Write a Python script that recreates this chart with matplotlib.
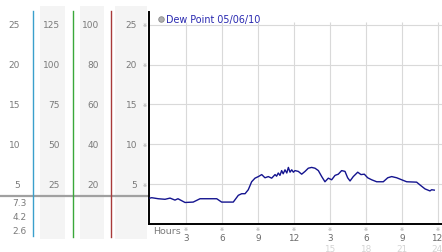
import matplotlib
matplotlib.use("Agg")
import matplotlib.pyplot as plt
import matplotlib.transforms as mtransforms
from matplotlib.patches import Rectangle

# ---------------- data ----------------
series_name = "Dew Point 05/06/10"
hours = [0.0, 0.14, 0.69, 1.25, 1.67, 2.08, 2.33, 2.92, 3.6, 4.17, 4.83, 5.56,
         5.97, 6.94, 7.36, 7.64, 7.92, 8.19, 8.47, 8.75, 9.03, 9.31, 9.58, 9.86,
         10.14, 10.42, 10.55, 10.69, 10.83, 10.97, 11.1, 11.25, 11.4, 11.53, 11.67,
         11.81, 11.95, 12.08, 12.36, 12.64, 12.92, 13.19, 13.47, 13.75, 14.03,
         14.31, 14.58, 14.86, 15.14, 15.42, 15.69, 15.97, 16.25, 16.47, 16.67,
         16.94, 17.31, 17.58, 17.86, 18.14, 18.47, 18.89, 19.44, 19.81, 20.14,
         20.56, 20.97, 21.39, 22.22, 22.5, 22.92, 23.33, 23.47, 23.69]
dew_point = [3.25, 3.3, 3.17, 3.1, 3.25, 3.0, 3.17, 2.7, 2.75, 3.17, 3.17, 3.17,
             2.75, 2.75, 3.6, 3.8, 3.8, 4.3, 5.3, 5.75, 5.95, 6.2, 5.8, 5.95,
             5.75, 6.2, 6.0, 6.4, 6.1, 6.7, 6.3, 6.8, 6.4, 7.1, 6.5, 6.8,
             6.5, 6.7, 6.6, 6.25, 6.6, 7.0, 7.1, 7.0, 6.7,
             5.95, 5.3, 5.75, 5.55, 6.1, 6.25, 6.7, 6.6, 5.8, 5.4,
             5.95, 6.5, 6.2, 6.25, 5.8, 5.55, 5.3, 5.3, 5.8, 5.95,
             5.8, 5.55, 5.3, 5.25, 4.9, 4.4, 4.15, 4.3, 4.25]

y_ticks = [5, 10, 15, 20, 25]
scale1_labels = ["5", "10", "15", "20", "25"]
scale2_labels = ["25", "50", "75", "100", "125"]
scale3_labels = ["20", "40", "60", "80", "100"]
scale4_labels = ["5", "10", "15", "20", "25"]
low_labels = ["7.3", "4.2", "2.6"]

x_ticks = [3, 6, 9, 12, 15, 18, 21, 24]
x_labels_top = ["3", "6", "9", "12", "3", "6", "9", "12"]
x_labels_bottom = ["", "", "", "", "15", "18", "21", "24"]
x_axis_title = "Hours"

# ---------------- layout ----------------
W, H = 442, 253
fig = plt.figure(figsize=(W / 100, H / 100), dpi=100)
fig.patch.set_facecolor("white")

bg = fig.add_axes([0, 0, 1, 1], zorder=0)
bg.set_xlim(0, W)
bg.set_ylim(H, 0)
bg.axis("off")

ax_left, ax_right, ax_top, ax_bot = 149, 442, 13, 225
ax = fig.add_axes([ax_left / W, (H - ax_bot) / H, (ax_right - ax_left) / W,
                   (ax_bot - ax_top) / H], zorder=2)
xmin, xmax = -1 / 12.0, (ax_right - 150) / 12.0
ax.set_xlim(xmin, xmax)
ax.set_ylim(0, 26.6)
ax.set_facecolor("none")
ax.set_xticks([])
ax.set_yticks([])
# grid (vertical lines stop just above the top horizontal line)
ax.vlines(x_ticks, 0, 25.35, color="#d9d9d9", linewidth=0.8, zorder=1)
ax.hlines(y_ticks, xmin, xmax, color="#d9d9d9", linewidth=0.8, zorder=1)
for s in ["top", "right"]:
    ax.spines[s].set_visible(False)
ax.spines["left"].set_color("black")
ax.spines["left"].set_linewidth(1.4)
ax.spines["bottom"].set_color("black")
ax.spines["bottom"].set_linewidth(1.4)

ax.plot(hours, dew_point, color="#14148f", linewidth=1.0, zorder=3)

# left scale columns
for x0, x1 in [(40, 65), (80, 104), (115, 147)]:
    bg.add_patch(Rectangle((x0, 7), x1 - x0, 233, facecolor="#f4f4f4",
                           edgecolor="none"))
bg.plot([0, 149], [197, 197], color="#a0a0a0", linewidth=1.6)
bg.plot([33, 33], [12, 237], color="#3aa0cc", linewidth=1.0)
bg.plot([72.7, 72.7], [12, 238], color="#3aa83a", linewidth=1.0)
bg.plot([111, 111], [12, 238], color="#a83a3a", linewidth=1.0)

ty = mtransforms.blended_transform_factory(bg.transData, ax.transData)
lab_kw = dict(fontsize=6.5, color="#7a7a7a", va="center", ha="right",
              family="DejaVu Sans")
for yv, a, b, c, d in zip(y_ticks, scale1_labels, scale2_labels, scale3_labels,
                          scale4_labels):
    bg.text(20, yv, a, transform=ty, **lab_kw)
    bg.text(60, yv, b, transform=ty, **lab_kw)
    bg.text(99, yv, c, transform=ty, **lab_kw)
    bg.text(137, yv, d, transform=ty, **lab_kw)
    bg.text(145, yv, "\u203b", transform=ty, fontsize=3.5, color="#999999",
            va="center", ha="center")
for yp, t in zip([204, 218, 232], low_labels):
    bg.text(27, yp, t, **lab_kw)

# x labels
tx = mtransforms.blended_transform_factory(ax.transData, bg.transData)
last = x_ticks[-1]
for xv, t1, t2 in zip(x_ticks, x_labels_top, x_labels_bottom):
    bg.text(xv, 230, "\u203b", transform=tx, fontsize=3.5, color="#999999",
            va="center", ha="center")
    if xv == last:
        kw = dict(transform=tx, ha="center")
        off = -0.12
    else:
        kw = dict(transform=tx, ha="center")
        off = 0
    bg.text(xv + off, 239, t1, fontsize=6.4, color="#6a6a6a", va="center", **kw)
    if t2:
        bg.text(xv + off, 250, t2, fontsize=6.4, color="#d4d4d4", va="center",
                **kw)
bg.text(153, 232, x_axis_title, fontsize=6.8, color="#7a7a7a", va="center",
        ha="left")

# legend
bg.plot([161], [20], marker="o", markersize=4, markerfacecolor="#b0b0b0",
        markeredgecolor="#8a8a8a", markeredgewidth=0.6)
bg.text(166, 20, series_name, fontsize=6.9, color="#2828b0", va="center",
        ha="left")

fig.savefig("out.png", dpi=100)
